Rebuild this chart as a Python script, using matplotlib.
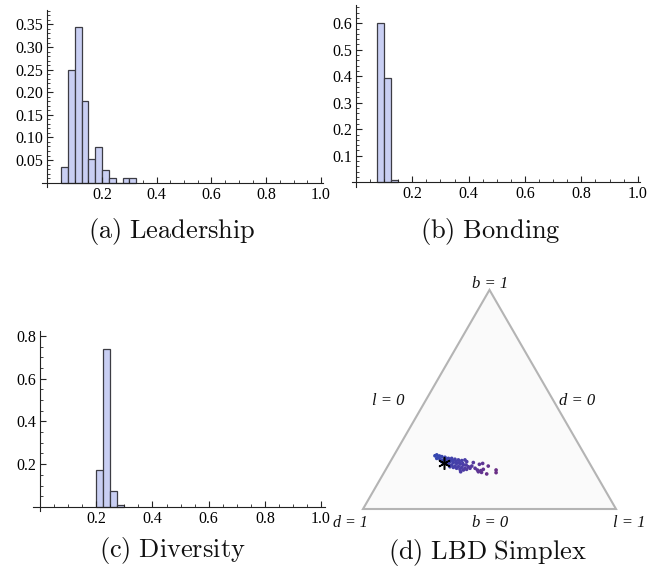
import numpy as np
import matplotlib
matplotlib.use("Agg")
import matplotlib.pyplot as plt
from matplotlib.ticker import MultipleLocator, FixedLocator
from matplotlib.colors import LinearSegmentedColormap

plt.rcParams["mathtext.fontset"] = "cm"

W, H = 648, 577
DPI = 100

# ---- histogram data (fraction of runs per bin, bin width 0.025) ----
bin_width = 0.025
leadership_start = 0.05
leadership_freq = [0.035, 0.250, 0.345, 0.181, 0.052, 0.078, 0.027, 0.010, 0.0, 0.010, 0.010]

bonding_start = 0.075
bonding_freq = [0.600, 0.392, 0.008]

diversity_start = 0.20
diversity_freq = [0.175, 0.740, 0.075, 0.010]

# ---- simplex points (l, b); d = 1 - l - b ----
simplex_l = [0.163, 0.168, 0.181, 0.192, 0.206, 0.222, 0.235, 0.250, 0.265, 0.280,
             0.291, 0.302, 0.176, 0.191, 0.206, 0.220, 0.236, 0.251, 0.266, 0.281,
             0.296, 0.203, 0.220, 0.235, 0.250, 0.266, 0.280, 0.295, 0.310, 0.247,
             0.262, 0.277, 0.293, 0.308, 0.225, 0.180, 0.197, 0.215, 0.229, 0.244,
             0.260, 0.275, 0.290, 0.307, 0.320, 0.330, 0.319, 0.301, 0.330, 0.358,
             0.369, 0.397, 0.350, 0.363, 0.378, 0.385, 0.409, 0.437, 0.443, 0.332,
             0.371, 0.385]
simplex_b = [0.243, 0.247, 0.242, 0.239, 0.236, 0.231, 0.231, 0.227, 0.224, 0.221,
             0.224, 0.216, 0.231, 0.227, 0.224, 0.221, 0.216, 0.212, 0.208, 0.205,
             0.201, 0.216, 0.208, 0.205, 0.201, 0.196, 0.193, 0.190, 0.186, 0.193,
             0.190, 0.186, 0.181, 0.178, 0.212, 0.236, 0.221, 0.227, 0.224, 0.221,
             0.216, 0.212, 0.208, 0.201, 0.193, 0.186, 0.181, 0.170, 0.212, 0.204,
             0.208, 0.196, 0.186, 0.178, 0.175, 0.181, 0.160, 0.178, 0.166, 0.196,
             0.170, 0.167]
star_l, star_b = 0.214, 0.212

captions = ["(a) Leadership", "(b) Bonding", "(c) Diversity", "(d) LBD Simplex"]

BAR_FACE = "#c9cff3"
BAR_EDGE = "#3c3c44"
TICK_FONT = dict(family="Liberation Serif", size=11.5)

fig = plt.figure(figsize=(W / DPI, H / DPI), dpi=DPI)


def add_px_axes(left, top, right, bottom):
    return fig.add_axes([left / W, 1 - bottom / H, (right - left) / W, (bottom - top) / H])


def hist_panel(rect, start, freq, xlim, ylim, ymajor, yminor):
    ax = add_px_axes(*rect)
    edges = start + bin_width * np.arange(len(freq))
    ax.bar(edges, freq, width=bin_width, align="edge",
           facecolor=BAR_FACE, edgecolor=BAR_EDGE, linewidth=0.9)
    ax.set_xlim(*xlim)
    ax.set_ylim(*ylim)
    for s in ("top", "right"):
        ax.spines[s].set_visible(False)
    ax.spines["left"].set_position(("data", 0))
    ax.spines["bottom"].set_position(("data", 0))
    for s in ("left", "bottom"):
        ax.spines[s].set_linewidth(0.8)
        ax.spines[s].set_color("#222222")
    ax.patch.set_alpha(0)
    ax.xaxis.set_major_locator(FixedLocator([0.2, 0.4, 0.6, 0.8, 1.0]))
    ax.xaxis.set_minor_locator(MultipleLocator(0.05))
    yt = [v for v in np.arange(ymajor, ylim[1] + 1e-9, ymajor)]
    ax.yaxis.set_major_locator(FixedLocator(yt))
    ax.yaxis.set_minor_locator(MultipleLocator(yminor))
    ax.tick_params(which="major", direction="in", length=4.5, width=0.8, color="#222222", pad=3)
    ax.tick_params(which="minor", direction="in", length=2.2, width=0.6, color="#222222")
    ax.set_xticklabels(["0.2", "0.4", "0.6", "0.8", "1.0"], **TICK_FONT)
    dec = 2 if ymajor < 0.1 else 1
    ax.set_yticklabels([f"{v:.{dec}f}" for v in yt], **TICK_FONT)
    return ax


# (a) Leadership
hist_panel((41.8, 10, 322.8, 186.7), leadership_start, leadership_freq,
           (-0.0205, 1.007), (-0.009, 0.382), 0.05, 0.01)
# (b) Bonding
hist_panel((351.7, 5, 640, 186.7), bonding_start, bonding_freq,
           (-0.015, 1.008), (-0.017, 0.669), 0.1, 0.02)
# (c) Diversity
hist_panel((33.3, 330.7, 325, 511), diversity_start, diversity_freq,
           (-0.024, 1.014), (-0.019, 0.824), 0.2, 0.05)

# (d) LBD simplex: vertices d=1 (0,0), l=1 (1,0), b=1 (0.5, sqrt(3)/2)
ax = add_px_axes(330, 270, 648, 540)
ax.set_xlim((330 - 363) / 253, (648 - 363) / 253)
ax.set_ylim((509 - 540) / 253, (509 - 270) / 253)
ax.set_axis_off()
h = np.sqrt(3) / 2
tri = plt.Polygon([[0, 0], [1, 0], [0.5, h]], closed=True,
                  facecolor="#fafafa", edgecolor="#b4b4b4", linewidth=1.5)
ax.add_patch(tri)

sl = np.array(simplex_l)
sb = np.array(simplex_b)
px = sl + 0.5 * sb
py = h * sb
cmap = LinearSegmentedColormap.from_list("lbd", ["#3448b0", "#4a3ea8", "#6a2f86"])
ax.scatter(px, py, c=sl, cmap=cmap, vmin=0.16, vmax=0.42, s=7, linewidths=0, zorder=3)
ax.plot([star_l + 0.5 * star_b], [h * star_b], marker=(6, 2, 0), color="black",
        markersize=9, markeredgewidth=1.1, zorder=4)

LBL = dict(family="Liberation Serif", style="italic", size=12, color="#111111")
ax.text(0.502, 0.889, "b = 1", ha="center", va="center", **LBL)
ax.text(0.099, 0.427, "l = 0", ha="center", va="center", **LBL)
ax.text(0.846, 0.427, "d = 0", ha="center", va="center", **LBL)
ax.text(0.018, -0.055, "d = 1", ha="right", va="center", fontsize=11.5,
        **{k: v for k, v in LBL.items() if k != "size"})
ax.text(0.502, -0.055, "b = 0", ha="center", va="center", **LBL)
ax.text(0.988, -0.055, "l = 1", ha="left", va="center", **LBL)

# captions
cap_pos = [(172, 232), (490, 232), (172, 551), (488, 552)]
for (cx, cy), cap in zip(cap_pos, captions):
    fig.text(cx / W, 1 - cy / H, r"$\mathrm{" + cap.replace(" ", r"\ ") + "}$",
             ha="center", va="center", fontsize=19, color="#111111")

fig.savefig("out.png", dpi=DPI)
